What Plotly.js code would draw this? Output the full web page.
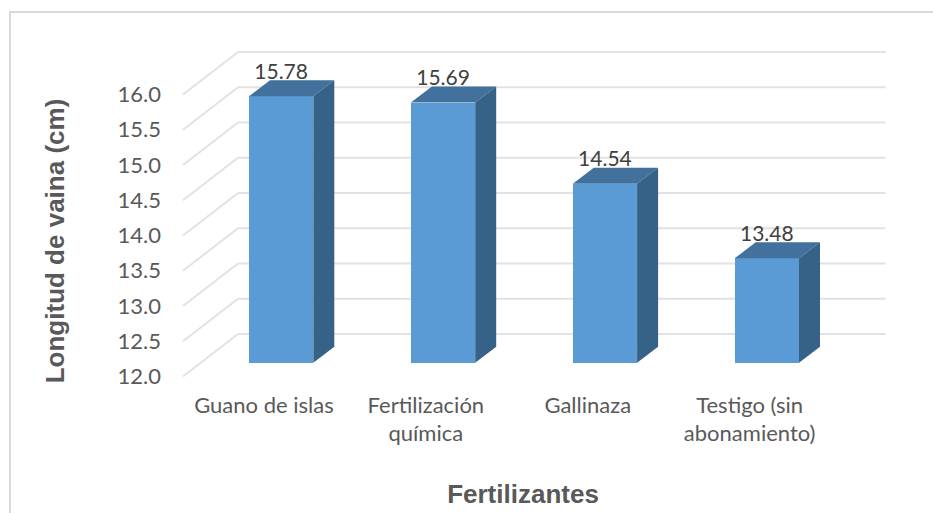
<!DOCTYPE html>
<html>
<head>
<meta charset="utf-8">
<script src="https://cdn.plot.ly/plotly-3.0.1.min.js"></script>
<style>html,body{margin:0;padding:0;background:#fff}#c{width:933px;height:513px}</style>
</head>
<body>
<div id="c"></div>
<script>
const categories = ["Guano de islas", "Fertilización<br>química", "Gallinaza", "Testigo (sin<br>abonamiento)"];
const longitud = [15.78, 15.69, 14.54, 13.48];
const tickValues = [12, 12.5, 13, 13.5, 14, 14.5, 15, 15.5, 16];
const tickLabels = ["12.0", "12.5", "13.0", "13.5", "14.0", "14.5", "15.0", "15.5", "16.0"];

// Plot box in pixels and the oblique projection expressed in axis units.
const W = 933, H = 513;
const box = {l: 160, r: 886, t: 48, b: 434};
const pxX = 161.9, pxY = 70.5;
const xMin = -0.5 - (183 - box.l) / pxX, xMax = xMin + (box.r - box.l) / pxX;
const yMin = 12 - (box.b - 376.5) / pxY, yMax = 12 + (376.5 - box.t) / pxY;
const wallDX = 55 / pxX, wallDY = 42.5 / pxY;     // floor depth
const barOffX = 17.2 / pxX, barOffY = 13.8 / pxY; // bar front plane
const barDX = 21 / pxX, barDY = 16 / pxY;         // bar depth
const barW = 64.3 / pxX;
const labelDrop = 4 / pxY;

const xs = categories.map((_, i) => i);
const cx = xs.map(i => i + barOffX);
const barBase = 12 + barOffY;
const barTop = longitud.map(v => v + barOffY);

const polys = (fn) => {
  const X = [], Y = [];
  longitud.forEach((v, i) => { fn(i).forEach(p => { X.push(p[0]); Y.push(p[1]); }); X.push(null); Y.push(null); });
  return {X, Y};
};
const topFace = polys(i => {
  const a = cx[i] - barW/2, b = cx[i] + barW/2, y = barTop[i];
  return [[a,y],[b,y],[b+barDX,y+barDY],[a+barDX,y+barDY],[a,y]];
});
const sideFace = polys(i => {
  const b = cx[i] + barW/2, y = barTop[i];
  return [[b,barBase],[b+barDX,barBase+barDY],[b+barDX,y+barDY],[b,y],[b,barBase]];
});

const traces = [
  {type:'bar', x:cx, y:longitud.map(v => v - 12), base:barBase, width:barW,
   marker:{color:'#5b9bd5', line:{width:0}}, hoverinfo:'skip', showlegend:false},
  {type:'scatter', mode:'lines', x:topFace.X, y:topFace.Y, fill:'toself', fillcolor:'#41719c',
   line:{width:0, color:'#41719c'}, hoverinfo:'skip', showlegend:false},
  {type:'scatter', mode:'lines', x:sideFace.X, y:sideFace.Y, fill:'toself', fillcolor:'#376287',
   line:{width:0, color:'#376287'}, hoverinfo:'skip', showlegend:false},
  {type:'scatter', mode:'text', x:cx, y:barTop.map(v => v + barDY - labelDrop), text:longitud.map(v => v.toFixed(2)),
   textposition:'top center', cliponaxis:false, textfont:{family:'Lato, sans-serif', size:21, color:'#404040'},
   hoverinfo:'skip', showlegend:false}
];

const gridColor = '#e2e2e2';
const shapes = [];
tickValues.forEach(v => {
  shapes.push({type:'line', layer:'below', xref:'x', yref:'y', x0:-0.5, y0:v, x1:-0.5+wallDX, y1:v+wallDY,
    line:{color:gridColor, width:2}});
  shapes.push({type:'line', layer:'below', xref:'x', yref:'y', x0:-0.5+wallDX, y0:v+wallDY, x1:3.5+wallDX, y1:v+wallDY,
    line:{color:gridColor, width:2}});
});
// Chart frame: left and top edges, running off the page
const pX = px => (px - box.l) / (box.r - box.l);
const pY = py => (box.b - py) / (box.b - box.t);
shapes.push({type:'path', layer:'below', xref:'paper', yref:'paper',
  path:`M ${pX(10)} ${pY(520)} L ${pX(10)} ${pY(12)} L ${pX(940)} ${pY(12)}`,
  line:{color:'#d9d9d9', width:2}});

const layout = {
  width:W, height:H, paper_bgcolor:'#fff', plot_bgcolor:'rgba(0,0,0,0)', showlegend:false,
  margin:{l:box.l, r:W-box.r, t:box.t, b:H-box.b, pad:0},
  bargap:0,
  xaxis:{range:[xMin,xMax], tickmode:'array', tickvals:xs, ticktext:categories, showgrid:false, zeroline:false,
    showline:false, ticks:'', anchor:'free', position:(box.b-376.5)/(box.b-box.t), automargin:false,
    ticklabelstandoff:13,
    tickfont:{family:'Lato, sans-serif', size:22, color:'#595959'},
    title:{text:'Fertilizantes', standoff:39, font:{family:'Liberation Sans, Arial, sans-serif', size:26, color:'#595959', weight:700}}},
  yaxis:{range:[yMin,yMax], tickmode:'array', tickvals:tickValues, ticktext:tickLabels, showgrid:false, zeroline:false,
    showline:false, ticks:'', automargin:false, ticklabelstandoff:-2,
    tickfont:{family:'Lato, sans-serif', size:22, color:'#595959'},
    title:{text:'Longitud de vaina (cm)', standoff:45, font:{family:'Liberation Sans, Arial, sans-serif', size:26, color:'#595959', weight:700}}},
  shapes:shapes
};
Plotly.newPlot('c', traces, layout, {displayModeBar:false, staticPlot:true});
</script>
</body>
</html>
